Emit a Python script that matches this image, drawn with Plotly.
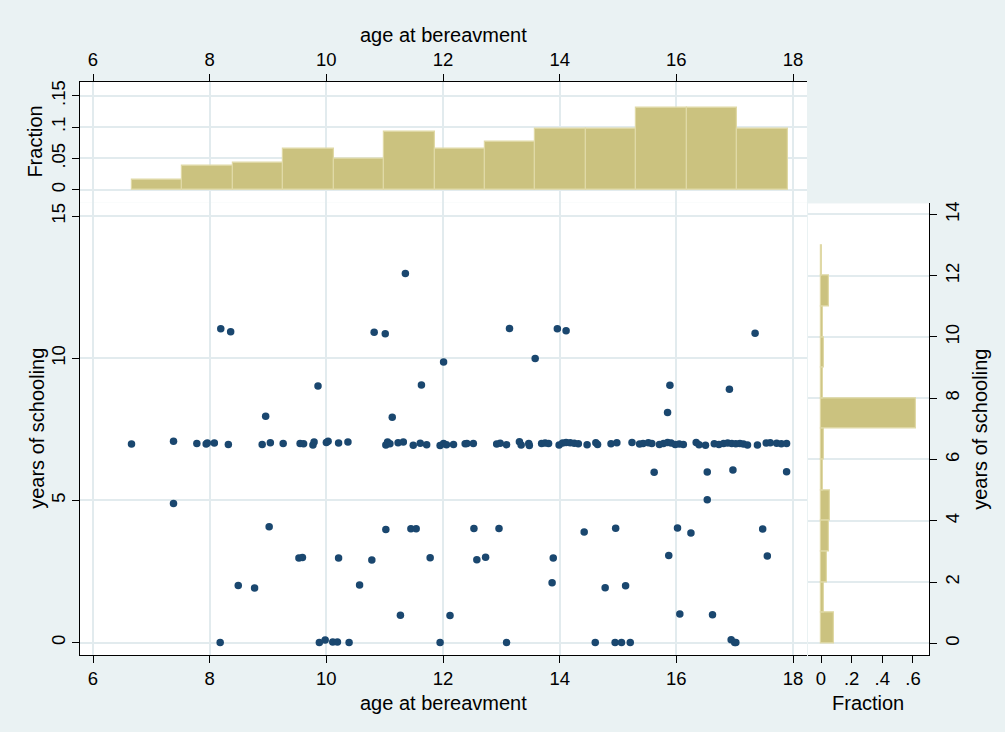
import plotly.graph_objects as go

# ---------------- data ----------------
# scatter: points around 7 years of schooling
row7_age = [6.66, 7.38, 7.78, 7.94, 7.96, 8.08, 8.32, 8.90, 9.04, 9.26, 9.55, 9.61, 9.77, 9.79,
            10.00, 10.03, 10.21, 10.37, 11.02, 11.05, 11.09, 11.23, 11.32, 11.49, 11.61, 11.72,
            11.95, 12.01, 12.06, 12.18, 12.38, 12.41, 12.52, 12.92, 12.98, 13.09, 13.31, 13.34,
            13.47, 13.48, 13.69, 13.75, 13.81, 13.99, 14.05, 14.11, 14.18, 14.25, 14.32, 14.47,
            14.62, 14.65, 14.88, 14.98, 15.24, 15.37, 15.43, 15.52, 15.58, 15.71, 15.78, 15.85,
            15.91, 15.98, 16.05, 16.12, 16.34, 16.39, 16.50, 16.65, 16.73, 16.81, 16.88, 16.95,
            17.02, 17.09, 17.15, 17.22, 17.39, 17.54, 17.61, 17.72, 17.80, 17.89]
row7_school = [6.98, 7.08, 7.00, 6.98, 7.02, 7.02, 6.97, 6.97, 7.03, 7.00, 7.00, 6.99, 6.95, 7.05,
               7.04, 7.08, 7.02, 7.05, 6.95, 7.05, 6.99, 7.03, 7.05, 6.94, 7.01, 6.96,
               6.93, 7.00, 6.96, 6.97, 6.99, 7.00, 7.00, 6.98, 7.01, 6.96, 7.06, 6.95,
               7.00, 6.93, 7.00, 7.02, 7.00, 6.95, 7.02, 7.04, 7.03, 7.01, 6.99, 6.96,
               7.03, 6.97, 6.99, 7.03, 7.04, 6.98, 7.00, 7.03, 7.00, 6.97, 7.00, 7.04,
               7.02, 6.97, 6.98, 6.97, 7.04, 6.96, 6.94, 6.99, 6.97, 7.00, 7.02, 7.00,
               6.99, 7.00, 6.98, 6.95, 6.95, 7.02, 7.03, 7.01, 6.99, 7.00]

# scatter: all other points
other_age = [8.19, 8.36, 10.82, 11.01, 11.355, 9.857, 11.63, 8.96, 11.13,
             12.01, 13.14, 13.58, 13.96, 14.11, 17.35, 15.89, 15.85, 16.91,
             7.38, 9.02, 11.02, 11.45, 11.54, 9.53, 9.59, 10.21, 10.78, 11.78,
             8.49, 8.77, 10.57, 11.27, 8.18, 9.88, 9.98, 10.11, 10.19, 10.39, 11.95,
             15.62, 16.53, 16.97, 17.89, 16.53, 12.53, 12.96, 14.42, 14.96, 16.02,
             16.25, 17.48, 12.58, 12.73, 13.89, 15.87, 17.56, 13.87, 14.78, 15.13,
             12.12, 16.06, 16.62, 13.09, 14.61, 14.95, 15.06, 15.21, 16.94, 17.00, 17.02]
other_school = [11.04, 10.93, 10.91, 10.86, 12.98, 9.02, 9.06, 7.96, 7.92,
                9.87, 11.05, 9.99, 11.04, 10.97, 10.88, 9.05, 8.09, 8.91,
                4.89, 4.07, 3.98, 4.00, 4.00, 2.97, 2.99, 2.97, 2.90, 2.98,
                2.01, 1.92, 2.02, 0.96, 0.00, 0.00, 0.09, 0.02, 0.02, 0.00, 0.00,
                5.99, 6.00, 6.07, 6.01, 5.02, 4.01, 4.01, 3.89, 4.02, 4.03,
                3.85, 3.99, 2.91, 3.00, 2.97, 3.06, 3.04, 2.10, 1.93, 2.00,
                0.95, 1.00, 0.98, 0.00, 0.00, 0.00, 0.00, 0.00, 0.10, 0.00, 0.00]

# histogram of age at bereavement (fractions per bin)
age_bin_start = 6.663
age_bin_width = 0.8652
age_fraction = [0.016, 0.038, 0.0435, 0.066, 0.049, 0.093, 0.066, 0.076,
                0.098, 0.098, 0.131, 0.131, 0.098]

# histogram of years of schooling (fractions per bin)
school_bin_start = 0.0
school_bin_width = 1.0
school_fraction = [0.082, 0.022, 0.038, 0.054, 0.060, 0.011, 0.022, 0.617,
                   0.016, 0.022, 0.011, 0.049, 0.005]

age_ticks = [6, 8, 10, 12, 14, 16, 18]
school_ticks_main = [0, 5, 10, 15]
top_frac_ticks = [0, 0.05, 0.1, 0.15]
top_frac_labels = ["0", ".05", ".1", ".15"]
side_frac_ticks = [0, 0.2, 0.4, 0.6]
side_frac_labels = ["0", ".2", ".4", ".6"]
school_ticks_side = [0, 2, 4, 6, 8, 10, 12, 14]

x_title = "age at bereavment"
y_title = "years of schooling"
frac_title = "Fraction"

# ---------------- styling ----------------
W, H = 1005, 732
BG = "#EAF2F3"
GRID = "#E2EBEE"
NAVY = "#1A476F"
KHAKI = "#CBC27F"
KHAKI_LINE = "#E0D9A6"
FONT = "Liberation Sans, Arial, sans-serif"
TICKFONT = dict(family=FONT, size=18.5, color="black")
TITLEFONT = dict(family=FONT, size=20, color="black")


def px_x(p):
    return p / W


def px_y(p):
    return 1 - p / H


age_centers = [age_bin_start + (i + 0.5) * age_bin_width for i in range(len(age_fraction))]
school_centers = [school_bin_start + (i + 0.5) * school_bin_width for i in range(len(school_fraction))]

fig = go.Figure()

fig.add_trace(go.Scatter(x=row7_age + other_age, y=row7_school + other_school,
                         mode="markers", xaxis="x", yaxis="y",
                         marker=dict(color=NAVY, size=7.5, line=dict(width=0)),
                         showlegend=False))

fig.add_trace(go.Bar(x=age_centers, y=age_fraction, width=age_bin_width,
                     xaxis="x2", yaxis="y2",
                     marker=dict(color=KHAKI, line=dict(color=KHAKI_LINE, width=1.2)),
                     showlegend=False))

fig.add_trace(go.Bar(y=school_centers, x=school_fraction, width=school_bin_width,
                     orientation="h", xaxis="x3", yaxis="y3",
                     marker=dict(color=KHAKI, line=dict(color=KHAKI_LINE, width=1.2)),
                     showlegend=False))

axis_common = dict(showline=True, linecolor="black", linewidth=1, ticks="outside",
                   ticklen=7, tickwidth=1, tickcolor="black", tickfont=TICKFONT,
                   zeroline=False, gridcolor=GRID, gridwidth=1.5)

fig.update_layout(
    width=W, height=H,
    margin=dict(l=0, r=0, t=0, b=0),
    paper_bgcolor=BG, plot_bgcolor="white",
    bargap=0,
    xaxis=dict(domain=[px_x(80), px_x(807)], anchor="y", range=[5.777, 18.24],
               tickvals=age_ticks, showgrid=True, **axis_common),
    yaxis=dict(domain=[px_y(655), px_y(201)], anchor="x", range=[-0.446, 15.48],
               tickvals=school_ticks_main, tickangle=-90, showgrid=True, **axis_common),
    xaxis2=dict(domain=[px_x(80), px_x(807)], anchor="y2", side="top", range=[5.777, 18.24],
                tickvals=age_ticks, showgrid=True, **axis_common),
    yaxis2=dict(domain=[px_y(201), px_y(80)], anchor="x2", range=[-0.0202, 0.1724],
                tickvals=top_frac_ticks, ticktext=top_frac_labels, tickangle=-90,
                showgrid=True, **axis_common),
    xaxis3=dict(domain=[px_x(808), px_x(929)], anchor="y3", range=[-0.0848, 0.7045],
                tickvals=side_frac_ticks, ticktext=side_frac_labels, showgrid=False,
                **axis_common),
    yaxis3=dict(domain=[px_y(655), px_y(202)], anchor="x3", side="right", range=[-0.39, 14.36],
                tickvals=school_ticks_side, tickangle=-90, showgrid=True, **axis_common),
)

annots = [
    dict(text=x_title, x=px_x(443), y=px_y(33), angle=0),
    dict(text=x_title, x=px_x(443), y=px_y(703), angle=0),
    dict(text=frac_title, x=px_x(868), y=px_y(703), angle=0),
    dict(text=y_title, x=px_x(37), y=px_y(428), angle=-90),
    dict(text=frac_title, x=px_x(35), y=px_y(140), angle=-90),
    dict(text=y_title, x=px_x(980), y=px_y(429), angle=-90),
]
for a in annots:
    fig.add_annotation(text=a["text"], x=a["x"], y=a["y"], xref="paper", yref="paper",
                       xanchor="center", yanchor="middle", showarrow=False,
                       textangle=a["angle"], font=TITLEFONT)

fig.write_html("out.html", config={"displayModeBar": False},
               post_script="document.body.style.margin='0';document.body.style.overflow='hidden';")
